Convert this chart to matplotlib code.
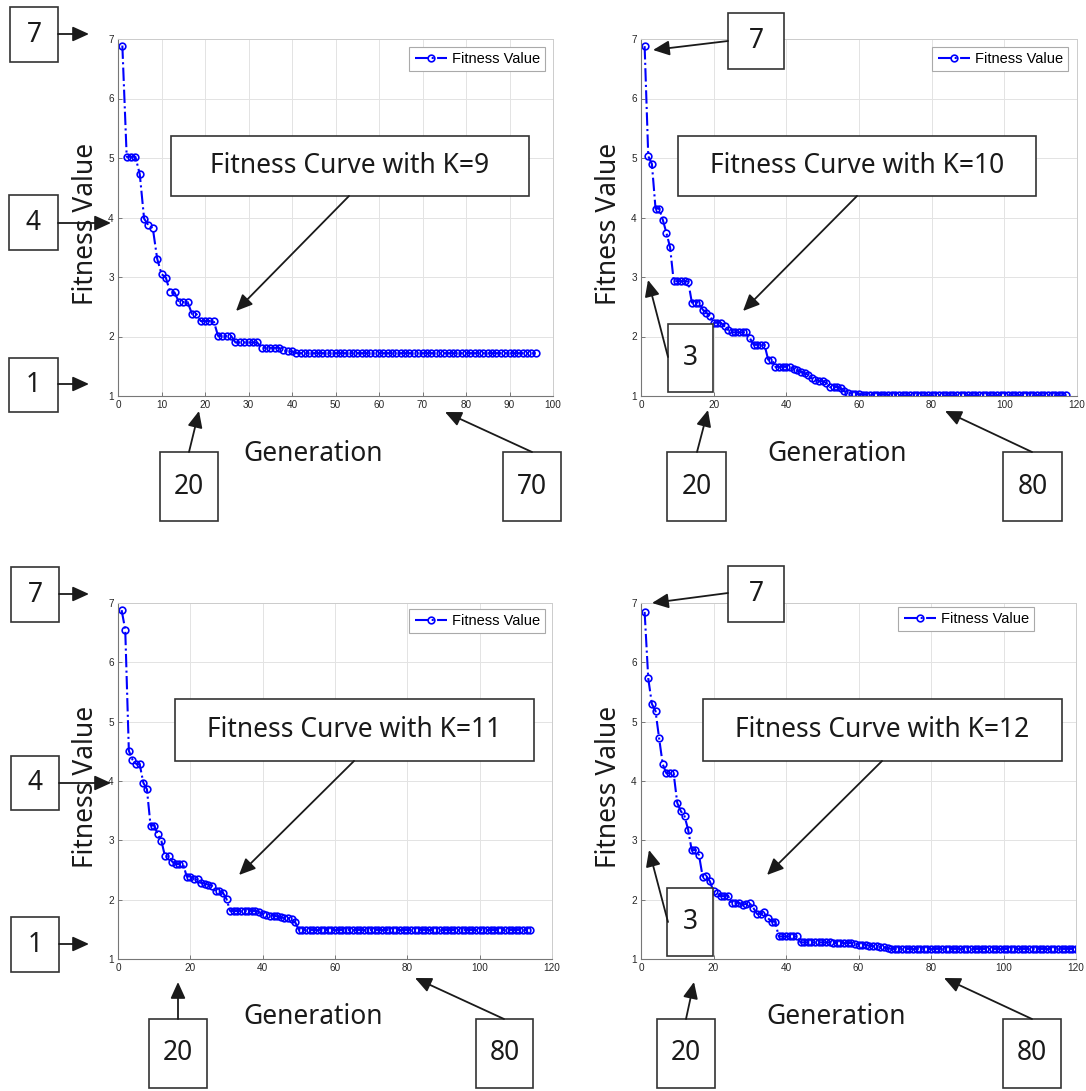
import matplotlib
matplotlib.use("Agg")
import numpy as np
import matplotlib.pyplot as plt
from matplotlib.patches import Rectangle, FancyArrowPatch

# fitness values per generation
fit_k9 = ([6.89, 5.02, 5.02, 5.02, 4.73, 3.98, 3.87, 3.82, 3.31, 3.05, 2.99,
           2.74, 2.74, 2.58, 2.58, 2.58, 2.38, 2.38, 2.26, 2.26, 2.26, 2.26,
           2.01, 2.01, 2.01, 2.01, 1.90, 1.90, 1.90, 1.90, 1.90, 1.90,
           1.81, 1.81, 1.81, 1.81, 1.81, 1.77, 1.75, 1.75] + [1.72] * 56)

fit_k10 = ([6.88, 5.03, 4.90, 4.15, 4.15, 3.96, 3.74, 3.50, 2.93, 2.93, 2.93, 2.93,
            2.92, 2.57, 2.57, 2.57, 2.45, 2.40, 2.34, 2.23, 2.23, 2.23, 2.17, 2.11,
            2.07, 2.07, 2.07, 2.07, 2.07, 1.97, 1.86, 1.86, 1.86, 1.86, 1.61, 1.61,
            1.49, 1.49, 1.49, 1.49, 1.49, 1.46, 1.43, 1.41, 1.38, 1.36, 1.30, 1.27,
            1.25, 1.25, 1.22, 1.15, 1.15, 1.15, 1.13, 1.08, 1.05, 1.04, 1.04, 1.03]
           + [1.02] * 10 + [1.01] * 47)

fit_k11 = ([6.88, 6.55, 4.51, 4.36, 4.29, 4.28, 3.97, 3.86, 3.25, 3.25, 3.10, 2.99,
            2.73, 2.73, 2.64, 2.60, 2.60, 2.60, 2.39, 2.39, 2.34, 2.34, 2.28, 2.27,
            2.25, 2.23, 2.14, 2.14, 2.12, 2.01, 1.81, 1.81, 1.81, 1.81, 1.81, 1.81,
            1.81, 1.81, 1.79, 1.76, 1.75, 1.73, 1.73, 1.72, 1.70, 1.69, 1.69, 1.67,
            1.62] + [1.49] * 65)

fit_k12 = ([6.85, 5.73, 5.30, 5.18, 4.72, 4.28, 4.13, 4.13, 4.13, 3.63, 3.49, 3.41,
            3.18, 2.83, 2.84, 2.75, 2.39, 2.40, 2.31, 2.14, 2.11, 2.06, 2.06, 2.07,
            1.94, 1.94, 1.95, 1.91, 1.93, 1.94, 1.86, 1.76, 1.76, 1.79, 1.69, 1.63,
            1.63, 1.38, 1.38, 1.38, 1.38, 1.38, 1.38]
           + [1.28] * 9 + [1.27] * 6 + [1.26, 1.24, 1.24, 1.24, 1.22, 1.22, 1.22,
                                        1.20, 1.20, 1.18] + [1.17] * 52)

series = [fit_k9, fit_k10, fit_k11, fit_k12]
k_values = [9, 10, 11, 12]
x_max = [100, 120, 120, 120]
x_step = [10, 20, 20, 20]

W, H = 1086, 1091


def fx(x):
    return x / W


def fy(y):
    return 1 - y / H


fig = plt.figure(figsize=(W / 100, H / 100), dpi=100)

# axes boxes in pixels: left, top, right, bottom
ax_px = [(118, 39, 553, 396), (641, 39, 1077, 396),
         (118, 603, 552, 959), (641, 603, 1076, 959)]
legend_px = [(545, 47), (1068, 47), (545, 609), (1034, 607)]

big_font = "Noto Sans"
for i, vals in enumerate(series):
    l, t, r, b = ax_px[i]
    ax = fig.add_axes([fx(l), fy(b), (r - l) / W, (b - t) / H])
    gen = np.arange(1, len(vals) + 1)
    ax.plot(gen, vals, color="blue", linestyle="-.", linewidth=1.5,
            marker="o", markersize=4.8, markerfacecolor="none",
            markeredgewidth=1.2, label="Fitness Value")
    ax.set_xlim(0, x_max[i])
    ax.set_ylim(1, 7)
    ax.set_xticks(np.arange(0, x_max[i] + 1, x_step[i]))
    ax.set_yticks(np.arange(1, 8))
    ax.grid(True, color="#e3e3e3", linewidth=0.7)
    ax.set_axisbelow(True)
    ax.tick_params(direction="in", length=3, width=0.6, labelsize=7.2,
                   labelcolor="#262626", color="#666666", pad=3)
    for name in ["left", "bottom"]:
        ax.spines[name].set_color("#777777")
        ax.spines[name].set_linewidth(0.8)
    for name in ["top", "right"]:
        ax.spines[name].set_color("#cccccc")
        ax.spines[name].set_linewidth(0.7)
    for lab in ax.get_xticklabels() + ax.get_yticklabels():
        lab.set_family("Liberation Sans")
    lx, ly = legend_px[i]
    leg = ax.legend(loc="upper right", bbox_to_anchor=(fx(lx), fy(ly)),
                    bbox_transform=fig.transFigure, fancybox=False,
                    prop={"family": "Liberation Sans", "size": 10.5},
                    borderpad=0.35, handlelength=2.2, handletextpad=0.35,
                    borderaxespad=0, framealpha=1)
    leg.get_frame().set_edgecolor("#aaaaaa")
    leg.get_frame().set_linewidth(0.8)

    # axis labels placed like the reference
    cx = (l + r) / 2
    fig.text(fx(l - 32), fy((t + b) / 2 + 6), "Fitness Value", rotation=90,
             ha="center", va="center", fontsize=19, family=big_font, color="#1a1a1a")
    fig.text(fx(cx - 22), fy(b + 58), "Generation", ha="center", va="center",
             fontsize=19, family=big_font, color="#1a1a1a")

# annotation boxes: text, (x0, y0, x1, y1), arrow start, arrow end
notes = [
    ("7", (10, 7, 58, 62), (58, 34), (89, 34)),
    ("4", (9, 195, 58, 250), (58, 223), (111, 223)),
    ("1", (9, 358, 58, 412), (58, 384), (89, 384)),
    ("Fitness Curve with K=9", (171, 136, 529, 196), (349, 196), (236, 311)),
    ("20", (160, 452, 218, 521), (189, 452), (199, 411)),
    ("70", (503, 452, 561, 521), (532, 452), (445, 412)),
    ("7", (728, 13, 784, 69), (728, 41), (653, 50)),
    ("Fitness Curve with K=10", (678, 136, 1036, 196), (857, 196), (743, 311)),
    ("3", (668, 324, 713, 392), (668, 357), (648, 280)),
    ("20", (667, 452, 726, 521), (697, 452), (708, 410)),
    ("80", (1003, 452, 1062, 521), (1032, 452), (945, 411)),
    ("7", (11, 567, 59, 622), (59, 594), (89, 594)),
    ("4", (11, 756, 59, 810), (59, 783), (111, 783)),
    ("1", (11, 917, 59, 972), (59, 944), (89, 944)),
    ("Fitness Curve with K=11", (175, 699, 534, 761), (354, 761), (239, 875)),
    ("20", (149, 1019, 207, 1088), (178, 1019), (178, 982)),
    ("80", (476, 1019, 533, 1088), (504, 1019), (415, 978)),
    ("7", (728, 566, 784, 622), (728, 593), (652, 603)),
    ("Fitness Curve with K=12", (703, 699, 1062, 761), (882, 761), (767, 875)),
    ("3", (667, 888, 713, 956), (668, 922), (649, 850)),
    ("20", (657, 1019, 715, 1088), (686, 1019), (694, 982)),
    ("80", (1003, 1019, 1061, 1088), (1032, 1019), (944, 978)),
]

for text, (x0, y0, x1, y1), start, end in notes:
    rect = Rectangle((fx(x0), fy(y1)), (x1 - x0) / W, (y1 - y0) / H,
                     transform=fig.transFigure, facecolor="white",
                     edgecolor="#333333", linewidth=1.2, zorder=5)
    fig.add_artist(rect)
    fig.text(fx((x0 + x1) / 2), fy((y0 + y1) / 2), text, ha="center", va="center",
             fontsize=19, family=big_font, color="#1a1a1a", zorder=6)
    arrow = FancyArrowPatch((fx(start[0]), fy(start[1])), (fx(end[0]), fy(end[1])),
                            transform=fig.transFigure,
                            arrowstyle="-|>,head_length=0.55,head_width=0.25",
                            mutation_scale=18, linewidth=1.3, color="#1a1a1a",
                            shrinkA=0, shrinkB=0, zorder=7)
    fig.add_artist(arrow)

fig.savefig("out.png", dpi=100)
